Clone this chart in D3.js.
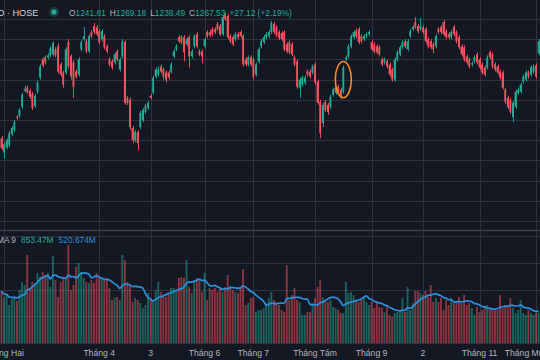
<!DOCTYPE html>
<html><head><meta charset="utf-8">
<script src="https://cdn.jsdelivr.net/npm/d3@7"></script>
<style>html,body{margin:0;padding:0;background:#141823;}svg{display:block;}</style>
</head><body>
<svg id="chart" width="540" height="360"></svg>
<script>
const opens=[1182,1168,1173,1175,1186,1190,1203,1204,1213,1229,
1232,1229,1226,1214,1228,1242,1260,1262,1262,1264,
1265,1270,1273,1255,1247,1247,1277,1263,1257,1248,
1245,1270,1280,1278,1268,1287,1293,1292,1288,1280,
1283,1273,1260,1258,1257,1268,1250,1263,1277,1222,
1220,1192,1180,1188,1193,1200,1208,1212,1224,1227,
1243,1245,1253,1250,1247,1247,1248,1263,1270,1282,
1282,1282,1275,1282,1263,1273,1285,1268,1268,1273,
1287,1287,1290,1290,1295,1293,1285,1305,1303,1283,
1282,1280,1285,1287,1283,1260,1255,1262,1260,1245,
1258,1273,1277,1282,1283,1287,1295,1292,1287,1286,
1287,1275,1277,1275,1262,1258,1232,1235,1237,1248,
1248,1247,1255,1238,1218,1197,1218,1215,1213,1225,
1227,1233,1230,1228,1260,1263,1273,1282,1288,1290,
1283,1280,1283,1285,1277,1275,1273,1272,1260,1257,
1258,1255,1250,1240,1260,1265,1272,1278,1270,1283,
1290,1297,1293,1290,1292,1290,1280,1278,1275,1273,
1290,1292,1297,1288,1285,1282,1292,1287,1282,1273,
1272,1263,1260,1255,1258,1265,1260,1255,1252,1252,
1267,1265,1255,1253,1248,1247,1230,1222,1220,1203,
1213,1227,1228,1238,1240,1247,1245,1248,1254,1266];
const highs=[1184,1178,1182,1189,1194,1200,1205,1212,1227,1234,
1234,1231,1228,1226,1239,1255,1262,1264,1266,1273,
1278,1272,1276,1257,1249,1272,1280,1265,1259,1250,
1262,1279,1292,1280,1285,1289,1296,1294,1290,1290,
1285,1275,1262,1260,1267,1270,1262,1280,1279,1224,
1222,1194,1190,1190,1209,1212,1216,1219,1226,1244,
1252,1253,1255,1252,1249,1249,1257,1270,1275,1284,
1284,1284,1282,1284,1270,1285,1287,1270,1270,1282,
1289,1289,1292,1292,1297,1295,1304,1307,1305,1285,
1284,1287,1287,1289,1285,1262,1264,1264,1262,1257,
1272,1280,1284,1287,1289,1298,1297,1294,1289,1288,
1289,1277,1279,1277,1264,1260,1242,1244,1244,1250,
1250,1255,1257,1240,1220,1217,1220,1217,1225,1232,
1234,1235,1232,1254,1264,1275,1285,1289,1291,1292,
1285,1285,1287,1289,1279,1277,1275,1274,1262,1262,
1260,1257,1252,1262,1269,1274,1279,1280,1280,1290,
1294,1302,1295,1301,1294,1292,1282,1280,1277,1285,
1292,1294,1299,1290,1287,1289,1294,1289,1284,1275,
1274,1265,1262,1258,1264,1267,1262,1257,1254,1264,
1269,1267,1257,1255,1250,1249,1232,1224,1222,1219,
1230,1232,1237,1245,1249,1249,1254,1255,1256,1280];
const lows=[1170,1162,1171,1173,1184,1188,1200,1202,1211,1227,
1226,1221,1210,1212,1226,1240,1252,1255,1260,1262,
1263,1262,1246,1243,1232,1245,1251,1240,1222,1241,
1243,1268,1278,1266,1266,1281,1285,1283,1275,1278,
1270,1266,1253,1250,1255,1258,1248,1261,1215,1215,
1190,1177,1178,1170,1191,1198,1206,1210,1220,1225,
1241,1243,1246,1240,1237,1240,1246,1261,1268,1276,
1275,1258,1273,1252,1261,1271,1271,1263,1256,1271,
1281,1282,1283,1285,1288,1283,1283,1298,1280,1276,
1273,1278,1280,1281,1253,1253,1253,1253,1240,1243,
1256,1271,1275,1280,1281,1285,1285,1282,1279,1278,
1268,1266,1265,1263,1253,1231,1222,1233,1235,1243,
1241,1245,1235,1215,1182,1193,1208,1205,1211,1223,
1225,1226,1221,1226,1258,1261,1271,1280,1281,1275,
1276,1278,1281,1283,1268,1266,1265,1263,1253,1255,
1251,1243,1238,1238,1258,1263,1270,1271,1268,1281,
1288,1290,1286,1288,1285,1276,1271,1270,1266,1271,
1285,1285,1283,1280,1280,1280,1283,1276,1270,1263,
1258,1255,1251,1253,1256,1255,1250,1245,1243,1250,
1260,1251,1248,1245,1240,1230,1216,1211,1206,1198,
1211,1225,1226,1236,1238,1241,1243,1246,1241,1264];
const closes=[1172,1176,1180,1187,1192,1198,1202,1210,1225,1231,
1228,1223,1212,1224,1237,1253,1254,1257,1264,1271,
1276,1264,1248,1245,1235,1270,1253,1243,1233,1243,
1260,1277,1283,1268,1283,1283,1287,1285,1277,1288,
1272,1268,1255,1252,1265,1260,1260,1278,1217,1217,
1193,1180,1188,1177,1207,1210,1214,1217,1222,1242,
1250,1250,1248,1243,1240,1242,1255,1268,1273,1278,
1277,1267,1280,1263,1268,1283,1273,1265,1263,1280,
1283,1284,1285,1287,1290,1285,1302,1300,1282,1278,
1275,1285,1282,1283,1255,1255,1262,1255,1243,1255,
1270,1278,1282,1285,1287,1296,1287,1284,1281,1280,
1270,1268,1267,1265,1255,1233,1240,1242,1242,1245,
1243,1253,1237,1217,1187,1215,1210,1208,1223,1230,
1232,1228,1223,1252,1262,1273,1283,1287,1283,1277,
1278,1283,1285,1287,1270,1268,1267,1265,1255,1260,
1253,1245,1240,1260,1267,1272,1277,1273,1278,1288,
1292,1292,1288,1293,1287,1278,1273,1272,1270,1283,
1287,1287,1285,1282,1282,1287,1285,1278,1272,1265,
1260,1257,1253,1256,1262,1257,1252,1247,1245,1262,
1262,1253,1250,1247,1242,1232,1218,1213,1208,1217,
1228,1230,1235,1243,1247,1243,1252,1253,1243,1278];
const volumes=[780,690,720,570,660,690,630,795,915,870,
1320,825,915,900,1050,990,1065,1020,1050,840,
1305,945,690,915,975,990,1470,795,870,1140,
1200,1065,975,915,900,945,900,1050,975,990,
945,975,825,645,675,690,645,1320,1245,915,
870,615,675,645,600,525,570,750,675,645,
795,915,765,720,690,750,825,825,795,975,
990,975,1245,840,750,945,975,945,765,1050,
645,825,795,825,765,825,765,840,1020,840,
795,765,750,840,1110,570,600,675,690,465,
495,495,525,600,675,765,645,615,570,495,
465,1170,645,720,825,645,615,420,420,465,
465,600,675,840,945,690,645,615,645,540,
525,495,450,450,915,750,765,720,645,615,
645,690,615,570,615,525,600,540,525,465,
570,420,390,450,465,495,675,465,840,495,
600,780,780,750,720,780,690,870,615,675,
615,675,495,645,570,675,600,615,690,600,
720,570,600,525,420,540,465,495,540,570,
525,525,495,495,720,525,570,540,675,525,
450,495,645,450,420,495,450,420,450,450];
const tickIdx=[1,38,58,79,98,122,144,164,186,208];
const tickLabels=["Tháng Hai","Tháng 4","3","Tháng 6","Tháng 7","Tháng Tám","Tháng 9","2","Tháng 11","Tháng Mười Hai"];
const markedIdx=133;
const legendSymbol="VNINDEX · 1D · HOSE";
const legendOHLC=[["O","1241.81"],["H","1269.18"],["L","1238.49"],["C","1267.53"]];
const legendChange="+27.12 (+2.19%)";
const volLegend=["Vol · MA 9","853.47M","520.674M"];

const W=540,H=360;
const UP="#22ab94",DOWN="#f7525f";
const UPV="rgba(34,171,148,0.5)",DOWNV="rgba(247,82,95,0.5)";
const svg=d3.select("#chart");
const N=closes.length;
const x=d3.scaleLinear().domain([0,N-1]).range([1.5,1.5+2.57*(N-1)]);
const y=d3.scaleLinear().domain([1092.1,1318.8]).range([229,0]);
const yv=d3.scaleLinear().domain([0,1665]).range([343,232]);
const font="'Liberation Sans',Arial,sans-serif";
const gridC="#2e323e";

svg.append("rect").attr("width",W).attr("height",H).attr("fill","#141823");

// grids
const g=svg.append("g");
g.selectAll("line.hp").data(y.ticks(12).filter(t=>t%20===0)).join("line")
 .attr("x1",0).attr("x2",W).attr("y1",d=>Math.round(y(d))+0.5).attr("y2",d=>Math.round(y(d))+0.5)
 .attr("stroke",gridC);
g.selectAll("line.hv").data([400,800,1200,1600]).join("line")
 .attr("x1",0).attr("x2",W).attr("y1",d=>Math.round(yv(d))+0.5).attr("y2",d=>Math.round(yv(d))+0.5)
 .attr("stroke",gridC);
g.selectAll("line.v").data(tickIdx).join("line")
 .attr("x1",d=>Math.round(x(d))+0.5).attr("x2",d=>Math.round(x(d))+0.5).attr("y1",0).attr("y2",344)
 .attr("stroke",gridC);
// pane separator & bottom
svg.append("line").attr("x1",0).attr("x2",W).attr("y1",230.5).attr("y2",230.5).attr("stroke","#3a3e4a").attr("stroke-width",1.5);
svg.append("line").attr("x1",0).attr("x2",W).attr("y1",343.5).attr("y2",343.5).attr("stroke",gridC);

const idx=d3.range(N);
// volume bars
const bw=1.9;
svg.append("g").selectAll("rect").data(idx).join("rect")
 .attr("x",i=>x(i)-bw/2).attr("width",bw)
 .attr("y",i=>yv(volumes[i])).attr("height",i=>yv(0)-yv(volumes[i]))
 .attr("fill",i=>closes[i]>=opens[i]?UPV:DOWNV);
// MA9
const ma=idx.map(i=>d3.mean(volumes.slice(Math.max(0,i-8),i+1)));
svg.append("path").datum(idx)
 .attr("d",d3.line().x(i=>x(i)).y(i=>yv(ma[i])).curve(d3.curveMonotoneX))
 .attr("fill","none").attr("stroke","#2b8fde").attr("stroke-width",1.7);

// candles
const cg=svg.append("g");
cg.selectAll("line").data(idx).join("line")
 .attr("x1",i=>Math.round(x(i))+0.5).attr("x2",i=>Math.round(x(i))+0.5)
 .attr("y1",i=>y(highs[i])).attr("y2",i=>y(lows[i]))
 .attr("stroke",i=>closes[i]>=opens[i]?UP:DOWN).attr("stroke-width",0.9);
cg.selectAll("rect").data(idx).join("rect")
 .attr("x",i=>x(i)-bw/2).attr("width",bw)
 .attr("y",i=>y(Math.max(opens[i],closes[i])))
 .attr("height",i=>Math.max(1,Math.abs(y(opens[i])-y(closes[i]))))
 .attr("fill",i=>closes[i]>=opens[i]?UP:DOWN);

// orange marker
const mi=markedIdx;
svg.append("ellipse").attr("cx",x(mi)).attr("cy",(y(highs[mi])+y(lows[mi]))/2)
 .attr("rx",8).attr("ry",(y(lows[mi])-y(highs[mi]))/2+4)
 .attr("fill","none").attr("stroke","#f28c28").attr("stroke-width",1.6);

// x axis labels
svg.append("g").selectAll("text").data(tickIdx).join("text")
 .attr("x",d=>x(d)).attr("y",356).attr("text-anchor","middle")
 .attr("font-family",font).attr("font-size",8.6).attr("fill","#b2b5be")
 .text((d,i)=>tickLabels[i]);

// top legend
svg.append("text").attr("x",38.5).attr("y",16).attr("text-anchor","end")
 .attr("font-family",font).attr("font-size",9.2).attr("fill","#d1d4dc").text(legendSymbol);
svg.append("circle").attr("cx",54).attr("cy",12).attr("r",5).attr("fill",UP).attr("opacity",0.25);
svg.append("circle").attr("cx",54).attr("cy",12).attr("r",2.6).attr("fill",UP);
const lt=svg.append("text").attr("x",69).attr("y",16).attr("font-family",font).attr("font-size",8.4);
legendOHLC.forEach((p,k)=>{
  lt.append("tspan").attr("dx",k?4:0).attr("fill","#b2b5be").text(p[0]);
  lt.append("tspan").attr("fill",UP).text(p[1]);
});
lt.append("tspan").attr("dx",4).attr("fill",UP).text(legendChange);

// volume legend
svg.append("text").attr("x",16).attr("y",243).attr("text-anchor","end").attr("font-family",font).attr("font-size",8.4).attr("fill","#b2b5be").text(volLegend[0]);
const vt2=svg.append("text").attr("x",21).attr("y",243).attr("font-family",font).attr("font-size",8.4);
vt2.append("tspan").attr("fill",UP).text(volLegend[1]);
vt2.append("tspan").attr("dx",5).attr("fill","#2b8fde").text(volLegend[2]);
</script>
</body></html>
